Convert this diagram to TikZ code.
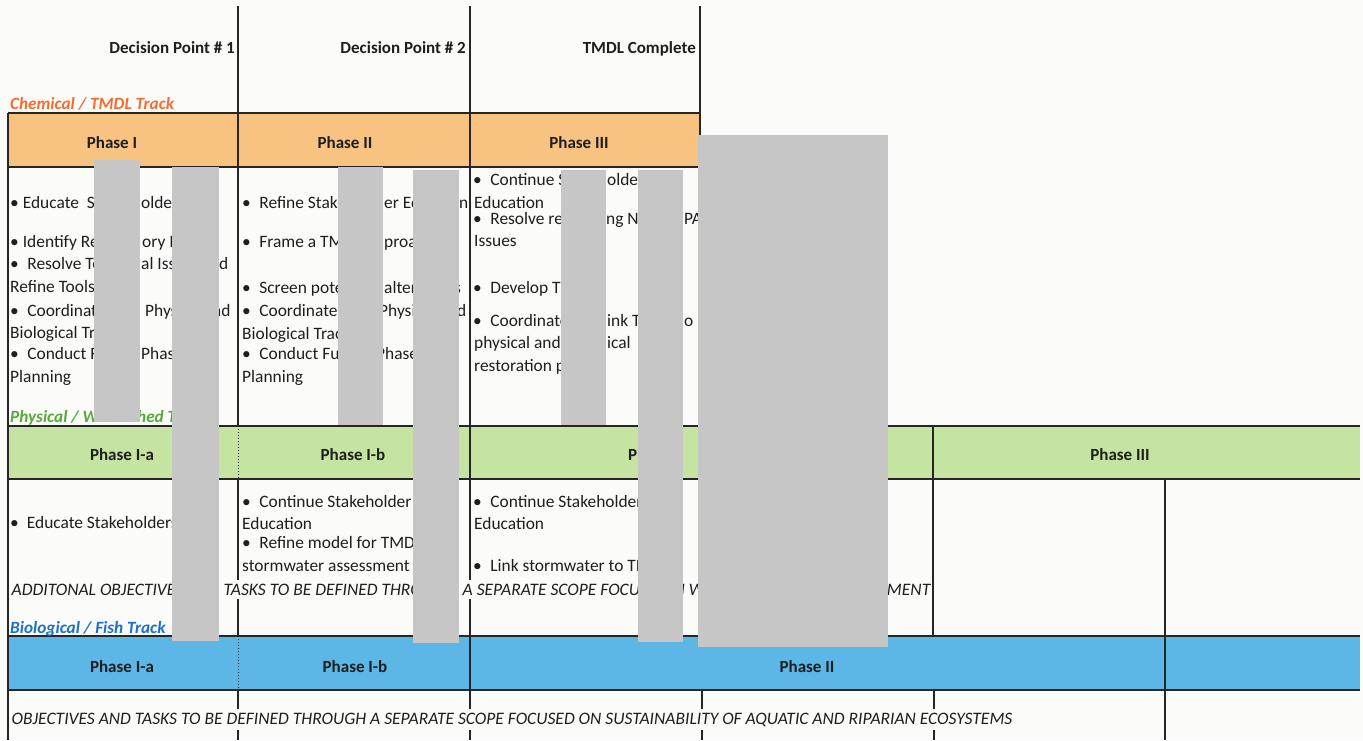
\documentclass[tikz,border=0pt]{standalone}
\usepackage{fontspec}
\setmainfont{Carlito}
\definecolor{bg}{RGB}{251,251,250}
\definecolor{orfill}{RGB}{248,194,128}
\definecolor{grfill}{RGB}{197,228,161}
\definecolor{blfill}{RGB}{92,182,230}
\definecolor{redg}{RGB}{198,198,199}
\definecolor{ortxt}{RGB}{246,108,46}
\definecolor{grtxt}{RGB}{86,170,58}
\definecolor{bltxt}{RGB}{28,112,200}
\definecolor{ink}{RGB}{30,30,30}
\newcommand{\mybul}[1]{\textbullet\hspace{#1pt}}
\begin{document}
\begin{tikzpicture}[x=1pt,y=-1pt,
  txt/.style={anchor=base west,inner sep=0pt,text=ink,font=\fontsize{17.4}{20}\selectfont},
  hdr/.style={anchor=base east,inner sep=0pt,text=ink,font=\bfseries\fontsize{17}{20}\selectfont},
  phs/.style={anchor=base,inner sep=0pt,text=ink,font=\bfseries\fontsize{17}{20}\selectfont},
  trk/.style={anchor=base west,inner sep=0pt,font=\bfseries\itshape\fontsize{17.2}{20}\selectfont},
  capnote/.style={anchor=base west,inner xsep=1.5pt,inner ysep=4pt,fill=bg,text=ink,font=\itshape\fontsize{17.5}{20}\selectfont},
  rl/.style={line width=1.2pt,black!85},
  dl/.style={line width=1pt,black!85,dash pattern=on 1.2pt off 1.8pt},
  redact/.style={fill=redg}]
\fill[bg] (0,0) rectangle (1363,740);
\useasboundingbox (0,0) rectangle (1363,740);
% bands
\fill[orfill] (8,113) rectangle (700,167);
\fill[grfill] (8,426) rectangle (1360,479);
\fill[blfill] (8,636) rectangle (1360,690);
% horizontal rules
\draw[rl] (8,113) -- (700,113);
\draw[rl] (8,167) -- (700,167);
\draw[rl] (8,426) -- (1360,426);
\draw[rl] (8,479) -- (1360,479);
\draw[rl] (8,636) -- (1360,636);
\draw[rl] (8,690) -- (1360,690);
% vertical rules
\draw[rl] (8,113) -- (8,740);
\draw[rl] (238,6) -- (238,426);
\draw[dl] (238,426) -- (238,479);
\draw[rl] (238,479) -- (238,636);
\draw[dl] (238,636) -- (238,690);
\draw[rl] (238,690) -- (238,740);
\draw[rl] (470,6) -- (470,740);
\draw[rl] (700,6) -- (700,426);
\draw[rl] (702,690) -- (702,740);
\draw[rl] (933,426) -- (933,636);
\draw[rl] (934,690) -- (934,740);
\draw[rl] (1165,479) -- (1165,740);
% headers
\node[hdr] (h1) at (235,53) {Decision Point \# 1};
\node[hdr] (h2) at (466,53) {Decision Point \# 2};
\node[hdr] (h3) at (696,53) {TMDL Complete};
% track labels
\node[trk,text=ortxt] (k1) at (10,109) {Chemical / TMDL Track};
\node[trk,text=grtxt] (k2a) at (10,422) {Physical / Wat};
\node[trk,text=grtxt] (k2b) at (137,422) {hed Track};
\node[trk,text=bltxt] (k3) at (10,633) {Biological / Fish Track};
% phase labels
\node[phs] (p1) at (112,148) {Phase I};
\node[phs] (p2) at (345,148) {Phase II};
\node[phs] (p3) at (579,148) {Phase III};
\node[phs] (q1) at (122,460) {Phase I-a};
\node[phs] (q2) at (353,460) {Phase I-b};
\node[phs,anchor=base west] (q3) at (628,460) {Phase II};
\node[phs] (q4) at (1120,460) {Phase III};
\node[phs] (r1) at (122,672) {Phase I-a};
\node[phs] (r2) at (355,672) {Phase I-b};
\node[phs] (r3) at (807,672) {Phase II};
% chemical column 1
\node[txt] (c1a) at (10,208) {\mybul{4}Educate\ \ Stak};
\node[txt] (c1b) at (141,208) {olders};
\node[txt] (c2a) at (10,247) {\mybul{4}Identify Regu};
\node[txt] (c2b) at (142,247) {ory\ Issues};
\node[txt] (c3a) at (10,269) {\mybul{8.5}Resolve Techn};
\node[txt] (c3b) at (141,269) {al Issues};
\node[txt] (c3c) at (219,269) {d};
\node[txt] (c4) at (10,292) {Refine Tools};
\node[txt] (c5a) at (10,316) {\mybul{8.5}Coordinate with};
\node[txt] (c5b) at (145,316) {Physical};
\node[txt] (c5c) at (212,316) {nd};
\node[txt] (c6) at (10,338) {Biological Track};
\node[txt] (c7a) at (10,359) {\mybul{8.5}Conduct Future};
\node[txt] (c7b) at (141,359) {Phase};
\node[txt] (c8) at (10,382) {Planning};
% chemical column 2
\node[txt] (d1a) at (242,208) {\mybul{8.5}Refine Stakeh};
\node[txt] (d1b) at (384,208) {er Educ};
\node[txt] (d1c) at (459,208) {n};
\node[txt] (d2a) at (242,247) {\mybul{8.5}Frame a TMDL};
\node[txt] (d2b) at (384,247) {proach};
\node[txt] (d3a) at (242,293) {\mybul{8.5}Screen potential};
\node[txt] (d3b) at (384,293) {alterna};
\node[txt] (d3c) at (454,293) {s};
\node[txt] (d4a) at (242,316) {\mybul{8.5}Coordinate with};
\node[txt] (d4b) at (379,316) {Physical};
\node[txt] (d4c) at (457,316) {d};
\node[txt] (d5) at (242,339) {Biological Track};
\node[txt] (d6a) at (242,359) {\mybul{8.5}Conduct Future};
\node[txt] (d6b) at (376,359) {Phase};
\node[txt] (d7) at (242,382) {Planning};
% chemical column 3
\node[txt] (e1a) at (473,185) {\mybul{8.5}Continue Stakeh};
\node[txt] (e1b) at (607,185) {olders};
\node[txt] (e2) at (474,208) {Education};
\node[txt] (e3a) at (473,224) {\mybul{8.5}Resolve remain};
\node[txt] (e3b) at (606,224) {ng NPDES};
\node[txt] (e3c) at (684,224) {PA};
\node[txt] (e4) at (474,246) {Issues};
\node[txt] (e5) at (473,293) {\mybul{8.5}Develop TMDL};
\node[txt] (e6a) at (473,326) {\mybul{8.5}Coordinate/l};
\node[txt] (e6b) at (607,326) {ink TMDL};
\node[txt] (e6c) at (684,326) {o};
\node[txt] (e7a) at (474,348) {physical and bio};
\node[txt] (e7b) at (607,348) {ical};
\node[txt] (e8) at (474,371) {restoration plan};
% physical track
\node[txt] (g1) at (10,528) {\mybul{8}Educate Stakeholders};
\node[txt] (g2) at (242,507) {\mybul{8.5}Continue Stakeholder};
\node[txt] (g3) at (242,529) {Education};
\node[txt] (g4) at (242,548) {\mybul{8.5}Refine model for TMDL};
\node[txt] (g5) at (242,571) {stormwater assessment};
\node[txt] (g6) at (473,507) {\mybul{8.5}Continue Stakeholders};
\node[txt] (g7) at (474,529) {Education};
\node[txt] (g8) at (473,571) {\mybul{8.5}Link stormwater to TMDL};
% italic notes
\node[capnote] (a1) at (10,595) {ADDITONAL OBJECTIVES AND};
\node[capnote] (a2) at (222,595) {TASKS TO BE DEFINED THROUGH};
\node[capnote] (a3) at (461,595) {A SEPARATE SCOPE FOCUSED};
\node[capnote] (a4) at (672,595) {N W};
\node[capnote,anchor=base east] (a5) at (932,595) {MENT};
\node[capnote] (b1) at (10,724) {OBJECTIVES AND TASKS TO BE DEFINED THROUGH A SEPARATE SCOPE FOCUSED ON SUSTAINABILITY OF AQUATIC AND RIPARIAN ECOSYSTEMS};
% redaction bars
\fill[redact] (94,160) rectangle (140,422);
\fill[redact] (172,167) rectangle (219,641);
\fill[redact] (338,167) rectangle (383,425);
\fill[redact] (413,170) rectangle (459,643);
\fill[redact] (561,170) rectangle (606,425);
\fill[redact] (638,170) rectangle (683,642);
\fill[redact] (698,135) rectangle (888,647);
\end{tikzpicture}
\end{document}
